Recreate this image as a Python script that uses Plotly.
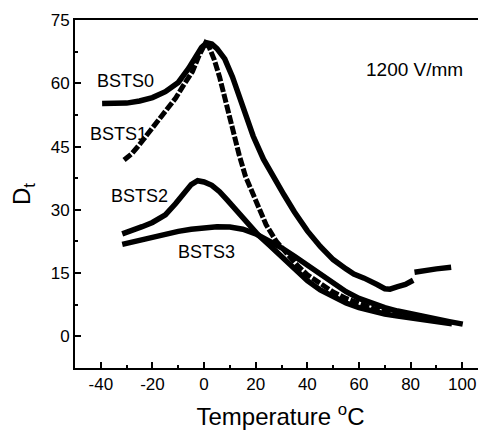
import plotly.graph_objects as go

# ---- data ----
t0 = [-39.5, -35, -30, -25, -20, -15, -10, -6, -3, -1, 1, 3, 5, 8, 11, 15, 19, 23, 27, 31, 35, 40, 45, 50, 55, 58, 62, 65, 67, 70, 72, 75, 78, 81, None, 81.5, 85, 90, 95.7]
d0 = [55.2, 55.1, 55.3, 55.8, 56.6, 58, 60.2, 63.5, 66.5, 68.5, 69.6, 69.3, 68.2, 65.8, 61.5, 54, 47.5, 42, 37.5, 33.5, 29.5, 25, 21.3, 18.2, 16, 14.8, 13.8, 13, 12.3, 11.3, 11.2, 11.8, 12.3, 13.3, None, 15.2, 15.6, 16.0, 16.4]

t1 = [-31, -28, -25, -21.4, -18, -15, -11, -8, -4.5, -2, 0.5, 2, 4, 6, 8, 11, 13.6, 16, 18, 21, 24, 28, 32, 36, 40, 45, 50, 55, 60, 65, 70, 75, 80, 85, 90, 94]
d1 = [41.8, 43.3, 45.5, 48.3, 51, 53.5, 56.5, 59.5, 62.8, 66.5, 69.5, 68.5, 65.5, 61.5, 56.5, 49, 43, 38, 35, 30.5, 26.5, 22.5, 19.6, 16.9, 14.6, 12.4, 10.5, 9.0, 7.7, 6.7, 5.9, 5.3, 4.8, 4.2, 3.7, 3.3]

t2 = [-31.7, -28, -24, -20, -15, -11, -8, -5, -2.5, 0, 3, 6, 9, 12.3, 15, 17.5, 21, 25, 30, 35, 40, 45, 50, 55, 60, 65, 70, 75, 80, 85, 90, 96]
d2 = [24.3, 25, 26, 27, 28.8, 31.5, 33.8, 36, 36.9, 36.6, 35.8, 34.3, 32.3, 30, 28, 26.5, 24, 21.8, 18.8, 16, 13.2, 11, 9.3, 7.9, 6.8, 6.0, 5.3, 4.8, 4.3, 3.8, 3.4, 3]

t3 = [-31.7, -25, -20, -15, -10, -5, 0, 5, 10, 15, 20, 25, 30, 35, 40, 45, 50, 55, 60, 65, 70, 75, 80, 85, 90, 95, 100.2]
d3 = [21.8, 22.8, 23.6, 24.3, 24.9, 25.4, 25.8, 26, 25.9, 25.4, 24.3, 22.8, 21, 19, 16.8, 14.6, 12.5, 10.6, 9.0, 7.8, 6.8, 6.0, 5.3, 4.7, 4.1, 3.5, 2.9]

x_ticks = [-40, -20, 0, 20, 40, 60, 80, 100]
y_ticks = [0, 15, 30, 45, 60, 75]

FONT = "Liberation Sans, Arial, sans-serif"

fig = go.Figure()
fig.add_trace(go.Scatter(x=t0, y=d0, mode="lines", line=dict(color="black", width=5.5), connectgaps=False, name="BSTS0"))
fig.add_trace(go.Scatter(x=t1, y=d1, mode="lines", line=dict(color="black", width=5, dash="9px,2px"), name="BSTS1"))
fig.add_trace(go.Scatter(x=t2, y=d2, mode="lines", line=dict(color="black", width=5.5), name="BSTS2"))
fig.add_trace(go.Scatter(x=t3, y=d3, mode="lines", line=dict(color="black", width=5.5), name="BSTS3"))

labels = [("BSTS0", -30.3, 60.5), ("BSTS1", -33, 47.9), ("BSTS2", -25.2, 33.2), ("BSTS3", 0.8, 20.0)]
for txt, x, y in labels:
    fig.add_annotation(x=x, y=y, text=txt, showarrow=False, font=dict(family=FONT, size=18, color="black"))
fig.add_annotation(x=81.6, y=63.3, text="1200 V/mm", showarrow=False, font=dict(family=FONT, size=19, color="black"))

# page body has an 8px margin, so the figure is sized to fit the 486x435 window
fig.update_layout(
    width=478, height=427,
    margin=dict(l=67, r=0, t=12, b=67),
    paper_bgcolor="white", plot_bgcolor="white",
    showlegend=False,
    font=dict(family=FONT, color="black"),
)
fig.update_xaxes(
    range=[-50, 109.2], tickvals=x_ticks, ticktext=[str(v) for v in x_ticks],
    automargin=False,
    showgrid=False, zeroline=False, showline=True, linecolor="black", linewidth=2, mirror=True,
    ticks="inside", ticklen=6, tickwidth=2, tickcolor="black",
    minor=dict(dtick=10, tick0=0, ticks="inside", ticklen=3, tickwidth=2, tickcolor="black"),
    tickfont=dict(family=FONT, size=17),
    title=dict(text="Temperature <sup>o</sup>C", font=dict(family=FONT, size=24)),
)
fig.update_yaxes(
    range=[-7.5, 75], tickvals=y_ticks, ticktext=[str(v) for v in y_ticks],
    automargin=False,
    showgrid=False, zeroline=False, showline=True, linecolor="black", linewidth=2,
    ticks="inside", ticklen=6, tickwidth=2, tickcolor="black",
    minor=dict(dtick=7.5, tick0=0, ticks="inside", ticklen=3, tickwidth=2, tickcolor="black"),
    tickfont=dict(family=FONT, size=17),
    title=dict(text="D<sub>t</sub>", font=dict(family=FONT, size=24)),
)

fig.write_html("out.html")
